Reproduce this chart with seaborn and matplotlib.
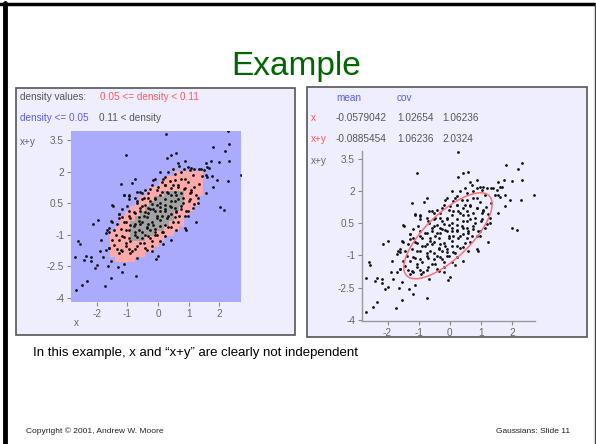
import matplotlib
matplotlib.use('Agg')  # no display

import matplotlib.pyplot as plt
import seaborn as sns
import numpy as np
import pandas as pd
from matplotlib.colors import ListedColormap, BoundaryNorm
from matplotlib.patches import Rectangle
from matplotlib.lines import Line2D

# Gaussian parameters shown on the slide
mean_x = -0.0579042
mean_xy = -0.0885454
cov_xx = 1.02654
cov_x_xy = 1.06236
cov_xy_xy = 2.0324

density_bounds = [0.0, 0.05, 0.11, 1.0]
ellipse_level = 0.061
x_ticks = [-2, -1, 0, 1, 2]
y_ticks = [3.5, 2, 0.5, -1, -2.5, -4]

# samples: outlying points
outer_x = [0.26, 2.29, -1.06, 1.80, 2.31, 2.18, 2.31, 2.72, 1.94, 2.29,
           1.78, 2.01, 2.15, 1.29, 1.24, 1.74, 1.61, 1.51, 1.40, 1.56,
           1.19, 0.97, 0.87, 0.65, 0.60, 0.44, 0.28, 0.49, 0.33, 0.06,
           -0.15, -0.74, -0.84, -1.20, -1.11, -0.95, -0.68, -0.52, -1.47, -1.17,
           -1.27, -1.01, -2.13, -1.97, -1.59, -1.70, -1.86, -2.61, -2.56, -2.70,
           -1.89, -1.70, -1.81, -2.34, -2.18, -2.18, -2.00, -2.07, -2.40, -1.63,
           -1.30, -1.19, -1.54, -1.73, -2.33, -2.47, -2.68, -0.73, -0.92, -0.68,
           -0.06, -1.11, -1.54, -0.20, 0.17]
outer_xy = [3.81, 3.93, 2.81, 3.19, 3.30, 3.00, 2.50, 1.82, 1.59, 1.56,
            1.28, 0.29, 0.18, 0.74, -0.40, 2.51, 2.20, 2.05, 2.12, 1.82,
            2.12, 2.20, 2.51, 2.43, 2.89, 2.81, 2.63, 2.12, 1.97, 1.97,
            1.59, 1.66, 1.46, 1.43, 0.90, 0.67, 1.05, 0.97, 0.36, -0.17,
            -0.02, 0.36, -0.48, -0.33, -0.86, -0.94, -1.25, -1.29, -1.47, -2.06,
            -1.78, -1.75, -2.09, -2.04, -2.09, -2.27, -2.47, -2.58, -2.21, -2.52,
            -2.55, -2.78, -3.08, -3.46, -3.19, -3.39, -3.62, -2.96, -1.86, -2.12,
            -2.16, -2.39, -2.24, -1.78, -1.47]

# samples inside the main cloud
core_x = [0.55, 0.76, 1.03, 1.13, 0.22, -0.10, 0.12, 0.55, 0.87,
          -0.20, 0.01, 0.22, 0.44, 0.65, 0.87, 1.08, -0.42, -0.58, -0.31, 0.12, 0.33, 0.55, 0.76, 1.03, 1.24,
          -0.95, -0.74, -0.52, -0.31, -0.10, 0.06, 0.22, 0.44, 0.65, 0.81, 1.03, 1.19, -0.20, -0.52, -0.68,
          -1.17, -0.95, -0.79, -0.58, -0.42, -0.26, -0.10, 0.06, 0.22, 0.44, 0.60, 0.76, 0.97, -0.04, -0.36,
          -0.63, -0.95, -1.27, 0.33, 0.55, 0.87,
          -1.49, -1.33, -1.11, -0.90, -0.74, -0.52, -0.31, -0.15, 0.06, 0.22, 0.44, 0.65, 0.87, -1.06, -0.63,
          -0.36, -0.10, 0.12, -1.59,
          -1.38, -1.17, -0.95, -0.74, -0.52, -0.31, -0.10, 0.22, 0.44, -1.49, -1.06, -0.58, -0.20,
          -1.33, -1.17, -0.95, -0.74, -0.42, -1.27, -1.59]
core_xy = [1.89, 1.97, 2.05, 1.82, 1.74, 1.66, 1.51, 1.59, 1.66,
           1.36, 1.28, 1.36, 1.20, 1.28, 1.20, 1.13, 1.13, 1.05, 0.97, 1.05, 0.97, 1.05, 0.97, 0.97, 0.90,
           0.82, 0.75, 0.67, 0.75, 0.67, 0.52, 0.67, 0.59, 0.67, 0.52, 0.67, 0.44, 0.44, 0.36, 0.52,
           0.21, 0.13, 0.06, 0.13, 0.06, 0.21, 0.13, 0.29, 0.13, 0.29, 0.06, 0.21, 0.13, -0.10, -0.17,
           -0.17, -0.10, -0.22, -0.10, -0.17, -0.10,
           -0.40, -0.48, -0.40, -0.56, -0.48, -0.40, -0.48, -0.56, -0.33, -0.56, -0.63, -0.40, -0.71, -0.79, -0.79,
           -0.71, -0.86, -0.86, -0.71,
           -1.02, -1.09, -1.17, -1.02, -1.17, -1.09, -1.02, -1.09, -1.25, -1.25, -1.40, -1.40, -1.32,
           -1.70, -1.78, -1.70, -1.70, -1.63, -1.86, -1.63]

# more samples from the left half of the cloud
mid_x = [0.17, 0.38, 0.49, 0.22, -0.04, -0.26, -0.47, -0.69, -0.95, -1.11,
         -1.49, -1.27, -1.54, -1.65, -1.43, -1.22, -1.06, -0.90, -0.74, -0.58,
         -0.42, -0.26, -0.10, 0.06, 0.28, 0.44, 0.54, 0.38, 0.22, 0.06,
         -0.15, -0.31, -0.47, -0.63, -0.79, -0.95, -1.11, -1.27, -1.43, -1.59,
         -1.22, -1.06, -0.90, -0.69, -0.52, -0.36, -0.20, -0.04, 0.12, 0.28,
         0.44, 0.60, 0.49, 0.33, 0.17, -0.04, -0.26, -0.47, -0.69, -0.85,
         -0.20, 0.06, -0.36, 0.01, -0.58, -0.74, -0.10, -0.26, -0.42, 0.06,
         0.22, -0.04, -0.31]
mid_xy = [1.65, 1.57, 1.34, 1.34, 1.11, 1.19, 0.73, 0.58, 0.88, 0.88,
          0.43, -0.03, -0.34, -0.80, -0.80, -0.72, -0.42, -0.19, 0.04, 0.27,
          0.43, 0.58, 0.73, 0.88, 1.04, 0.88, 0.58, 0.35, 0.20, 0.12,
          0.20, 0.04, -0.11, -0.34, -0.57, -0.80, -1.10, -1.26, -1.49, -1.64,
          -1.72, -1.56, -1.33, -1.10, -0.87, -0.64, -0.42, -0.19, -0.11, -0.19,
          -0.03, 0.12, -0.42, -0.64, -0.87, -1.03, -1.18, -1.41, -1.56, -1.79,
          -1.56, -1.33, -1.72, -2.02, -0.49, -0.87, -0.72, -0.80, -1.03, -0.57,
          0.43, 0.43, 0.27]

# more samples from the right half of the cloud
right_x = [1.56, 2.00, 0.86, 1.08, 1.34, 1.67, 1.45, 1.61, 1.77, 1.56,
           0.92, 0.60, 0.70, 0.76, 0.97, 0.65, 0.86, 1.08, 0.81, 0.60,
           1.02, 1.29, 1.13, 0.92, 0.70, 0.97, 1.18, 1.34, 0.54, 0.76]
right_xy = [2.41, 2.44, 2.11, 2.18, 2.11, 2.18, 1.80, 1.73, 1.80, 0.96,
            -0.80, -0.80, 2.26, 1.65, 1.50, 1.34, 1.19, 1.04, 0.73, 0.88,
            0.58, 0.50, 0.27, 0.12, -0.11, -0.11, 1.27, 1.42, 0.27, 0.35]

df = pd.DataFrame({'x': outer_x + core_x + mid_x + right_x,
                   'x+y': outer_xy + core_xy + mid_xy + right_xy})

sns.set_style('white')
plt.rcParams['font.family'] = ['Liberation Sans', 'DejaVu Sans']
plt.rcParams['axes.unicode_minus'] = False

W, H = 596, 444
fig = plt.figure(figsize=(W / 100, H / 100), dpi=100)


def box(px, py, pw, ph):
    # pixel box (top-left origin) -> figure fraction rect
    return [px / W, 1 - (py + ph) / H, pw / W, ph / H]


def ftext(px, py, s, **kw):
    fig.text(px / W, 1 - py / H, s, va='center', **kw)


# slide frame
fig.add_artist(Line2D([0, 1], [1 - 4.5 / H] * 2, color='black', lw=2.5))
fig.add_artist(Line2D([4.5 / W] * 2, [0, 1 - 3 / H], color='black', lw=3.5))
fig.add_artist(Line2D([1 - 1 / W] * 2, [0, 1 - 4 / H], color='#444444', lw=1))

# panel backgrounds, kept behind the axes
for px, py, pw, ph in [(16, 88, 279, 247), (307, 87, 280, 250)]:
    r = box(px, py, pw, ph)
    fig.add_artist(Rectangle((r[0], r[1]), r[2], r[3], transform=fig.transFigure,
                             facecolor='#eeeeff', edgecolor='#555555', lw=1.2,
                             zorder=-5))

# density of the fitted Gaussian
cov = np.array([[cov_xx, cov_x_xy], [cov_x_xy, cov_xy_xy]])
inv = np.linalg.inv(cov)
norm_c = 1 / (2 * np.pi * np.sqrt(np.linalg.det(cov)))


def density(gx, gy):
    dx, dy = gx - mean_x, gy - mean_xy
    q = inv[0, 0] * dx * dx + 2 * inv[0, 1] * dx * dy + inv[1, 1] * dy * dy
    return norm_c * np.exp(-q / 2)


def style_ticks(ax):
    ax.set_xticks(x_ticks)
    ax.set_yticks(y_ticks)
    ax.set_yticklabels([f'{t:g}' for t in y_ticks])
    ax.tick_params(direction='out', length=3, width=0.8, color='#888888',
                   labelsize=7.2, labelcolor='#666666', pad=2,
                   left=True, bottom=True)
    ax.set_xlabel('')
    ax.set_ylabel('')


fs = 7.2  # size of the small panel texts

# left panel: density regions
ax1 = fig.add_axes(box(71, 131, 170, 171))
xlim1, ylim1 = (-2.84, 2.71), (-4.21, 3.93)
ex = np.arange(xlim1[0], xlim1[1] + 0.16, 0.16)
ey = np.arange(ylim1[0], ylim1[1] + 0.24, 0.24)
cx, cy = np.meshgrid((ex[:-1] + ex[1:]) / 2, (ey[:-1] + ey[1:]) / 2)
cmap = ListedColormap(['#aaaaff', '#ffaaaa', '#a2a2a2'])
ax1.pcolormesh(ex, ey, density(cx, cy), cmap=cmap,
               norm=BoundaryNorm(density_bounds, cmap.N))
sns.scatterplot(data=df, x='x', y='x+y', ax=ax1, color='#111111', s=4,
                linewidth=0, legend=False)
ax1.set_xlim(xlim1)
ax1.set_ylim(ylim1)
for sp in ax1.spines.values():
    sp.set_visible(False)
style_ticks(ax1)

ftext(20, 97, 'density values:', fontsize=fs, color='#555555')
ftext(100, 97, '0.05 <= density < 0.11', fontsize=fs, color='#ff5a5a')
ftext(20, 118, 'density <= 0.05', fontsize=fs, color='#5a5aff')
ftext(99, 118, '0.11 < density', fontsize=fs, color='#555555')
ftext(20, 142, 'x+y', fontsize=fs, color='#666666')
ftext(74, 323, 'x', fontsize=fs, color='#666666')

# right panel: samples with the fitted ellipse
ax2 = fig.add_axes(box(362, 151, 173, 170))
ax2.patch.set_alpha(0)
sns.scatterplot(data=df, x='x', y='x+y', ax=ax2, color='#111111', s=4,
                linewidth=0, legend=False)
gx, gy = np.meshgrid(np.linspace(-3, 3, 300), np.linspace(-4.5, 4.5, 300))
ax2.contour(gx, gy, density(gx, gy), levels=[ellipse_level],
            colors='#ff7070', linewidths=1.1)
ax2.set_xlim(-2.82, 2.74)
ax2.set_ylim(-4.05, 3.85)
sns.despine(ax=ax2)
for sp in ['left', 'bottom']:
    ax2.spines[sp].set_color('#999999')
    ax2.spines[sp].set_linewidth(1)
style_ticks(ax2)

ftext(336, 98, 'mean', fontsize=fs, color='#5a5aff')
ftext(397, 98, 'cov', fontsize=fs, color='#5a5aff')
ftext(311, 118, 'x', fontsize=fs, color='#ff5a5a')
ftext(336, 118, f'{mean_x:g}', fontsize=fs, color='#555555')
ftext(397, 118, f'{cov_xx:g}', fontsize=fs, color='#555555')
ftext(442, 118, f'{cov_x_xy:g}', fontsize=fs, color='#555555')
ftext(311, 139, 'x+y', fontsize=fs, color='#ff5a5a')
ftext(336, 139, f'{mean_xy:g}', fontsize=fs, color='#555555')
ftext(397, 139, f'{cov_x_xy:g}', fontsize=fs, color='#555555')
ftext(442, 139, f'{cov_xy_xy:g}', fontsize=fs, color='#555555')
ftext(311, 161, 'x+y', fontsize=fs, color='#666666')

# slide text
ftext(296, 66, 'Example', fontsize=24, color='#006600', ha='center')
ftext(33, 353, 'In this example, x and \u201cx+y\u201d are clearly not independent',
      fontsize=9.5, color='black')
ftext(26, 431, 'Copyright \u00a9 2001, Andrew W. Moore', fontsize=6, color='#222222')
ftext(570, 431, 'Gaussians: Slide 11', fontsize=6, color='#222222', ha='right')

fig.savefig('out.png', dpi=100)
plt.close(fig)
